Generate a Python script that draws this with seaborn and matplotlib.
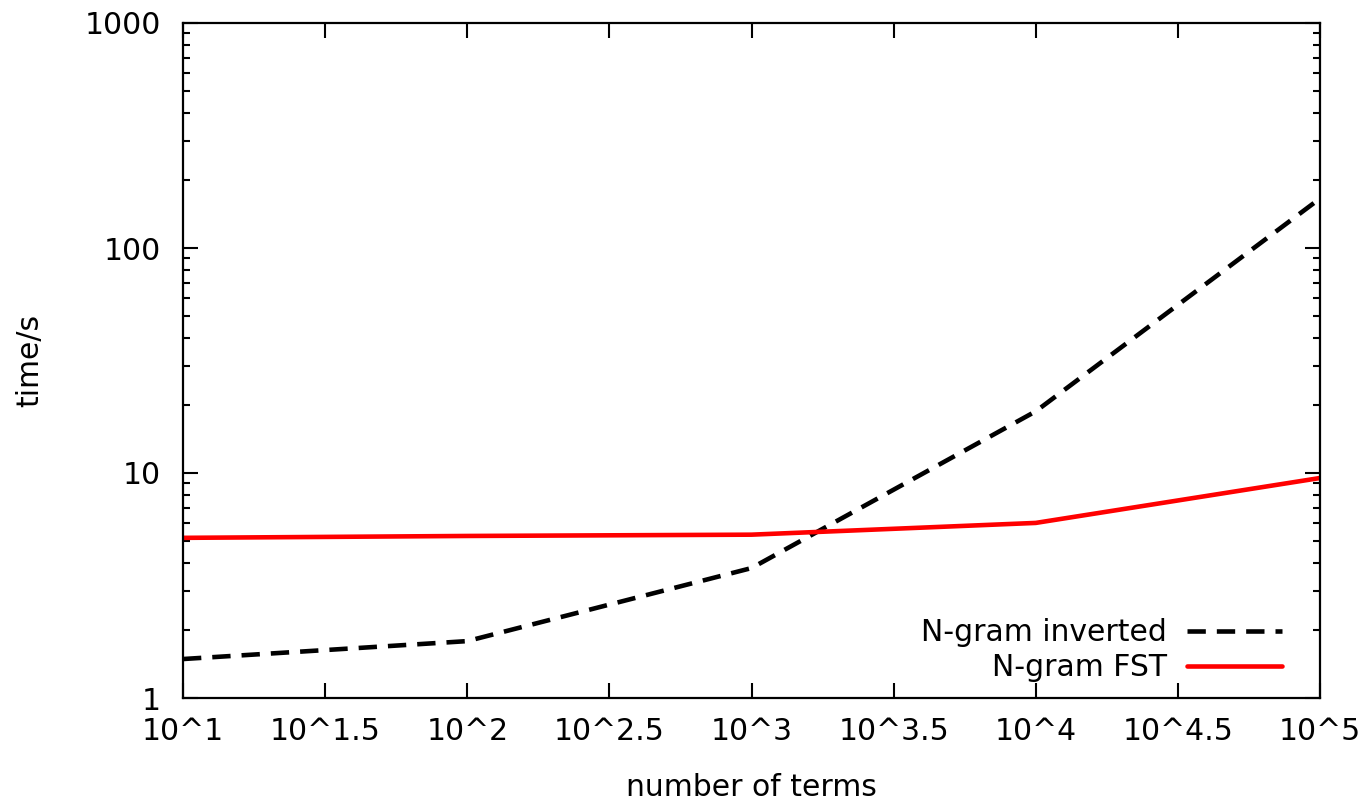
import matplotlib
matplotlib.use("Agg")
import matplotlib.pyplot as plt
import seaborn as sns
import pandas as pd
from matplotlib.ticker import FixedLocator, FixedFormatter, LogLocator, NullFormatter, NullLocator

terms = [10, 100, 1000, 10000, 100000]
inverted_time = [1.49, 1.79, 3.78, 18.8, 166]
fst_time = [5.15, 5.25, 5.32, 6.0, 9.5]
xtick_values = [10, 10**1.5, 100, 10**2.5, 1000, 10**3.5, 10000, 10**4.5, 100000]
xtick_labels = ["10^1", "10^1.5", "10^2", "10^2.5", "10^3", "10^3.5", "10^4", "10^4.5", "10^5"]
ytick_values = [1, 10, 100, 1000]
ytick_labels = ["1", "10", "100", "1000"]

df_inv = pd.DataFrame({"terms": terms, "time": inverted_time})
df_fst = pd.DataFrame({"terms": terms, "time": fst_time})

sns.set_theme(style="ticks")
plt.rcParams["font.family"] = ["DejaVu Sans"]
plt.rcParams["text.color"] = "black"
plt.rcParams["axes.labelcolor"] = "black"
FS = 21.5

fig = plt.figure(figsize=(13.68, 8.02), dpi=100)
ax = fig.add_axes([183/1368, 1-698/802, (1320-183)/1368, (698-23)/802])

sns.lineplot(data=df_inv, x="terms", y="time", ax=ax, color="black", lw=3.3,
             label="N-gram inverted")
sns.lineplot(data=df_fst, x="terms", y="time", ax=ax, color="#ff0000", lw=3.3,
             label="N-gram FST")
ax.lines[0].set_dashes([4.0, 2.4])
ax.lines[0].set_dash_capstyle("butt")

ax.set_xscale("log")
ax.set_yscale("log")
ax.set_xlim(10, 100000)
ax.set_ylim(1, 1000)

ax.xaxis.set_major_locator(FixedLocator(xtick_values))
ax.xaxis.set_major_formatter(FixedFormatter(xtick_labels))
ax.xaxis.set_minor_locator(NullLocator())
ax.yaxis.set_major_locator(FixedLocator(ytick_values))
ax.yaxis.set_major_formatter(FixedFormatter(ytick_labels))
ax.yaxis.set_minor_locator(LogLocator(base=10, subs=range(2, 10)))
ax.yaxis.set_minor_formatter(NullFormatter())

ax.tick_params(which="both", direction="in", top=True, right=True, width=1.5, colors="black")
ax.tick_params(which="major", length=10.8)
ax.tick_params(which="minor", length=5)
ax.tick_params(axis="x", which="major", pad=14, labelsize=FS)
ax.tick_params(axis="y", which="major", pad=16, labelsize=FS)
for s in ax.spines.values():
    s.set_linewidth(1.6)
    s.set_color("black")
    s.set_visible(True)

ax.set_xlabel("number of terms", fontsize=FS)
ax.set_ylabel("time/s", fontsize=FS)
ax.xaxis.set_label_coords(0.5, (698-787)/675)
ax.xaxis.label.set_va("center")
ax.yaxis.set_label_coords((30-183)/1137, 0.5)
ax.yaxis.label.set_va("center")

leg = ax.legend(loc="lower right", bbox_to_anchor=(1 - 2/1137, -20/675), frameon=False,
                markerfirst=False, fontsize=FS, handlelength=3.2, handletextpad=0.65,
                labelspacing=0.2, borderaxespad=0.8)
for t in leg.get_texts():
    t.set_color("black")

fig.savefig("out.png", dpi=100)
